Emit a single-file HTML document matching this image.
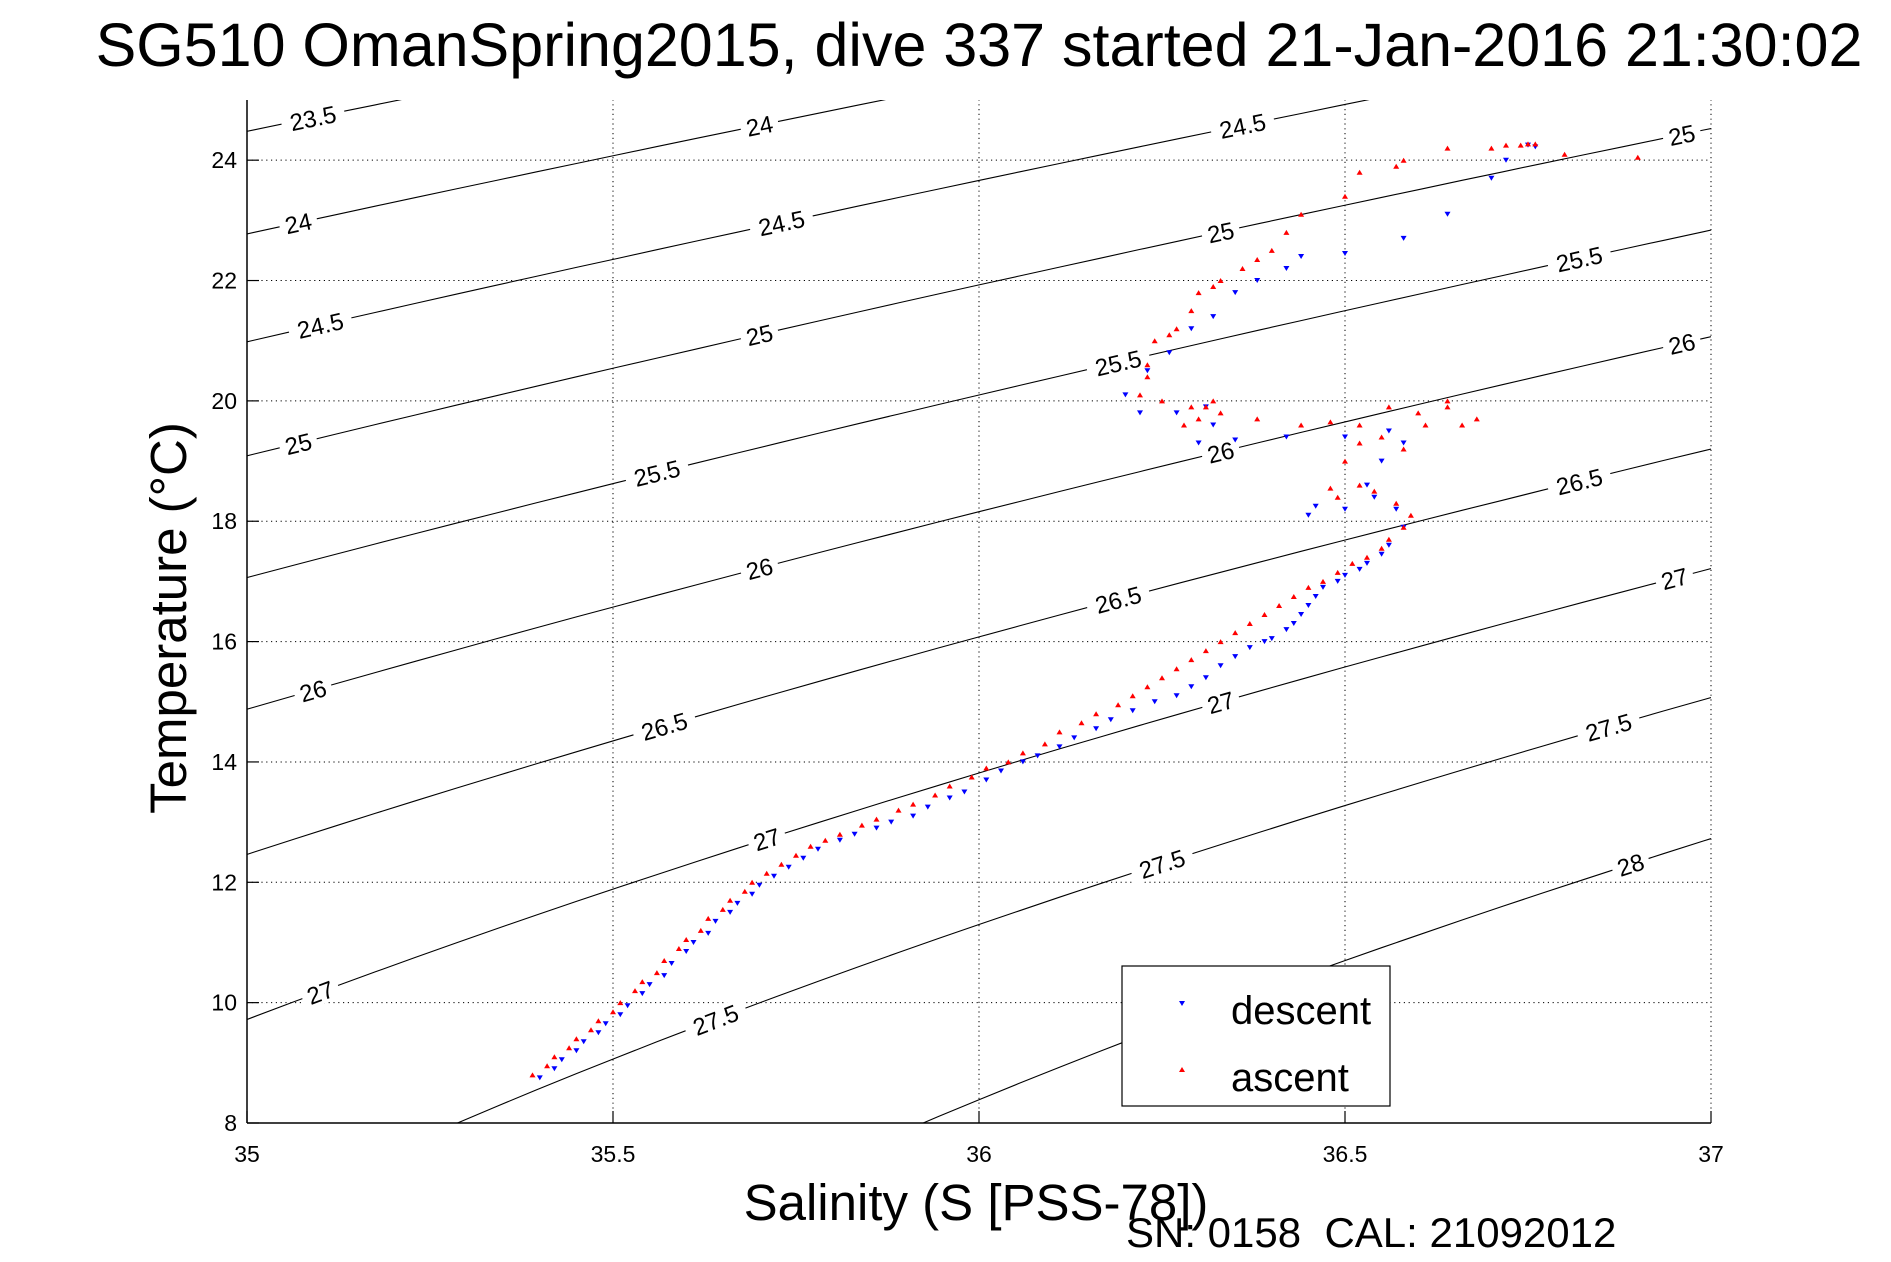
<!DOCTYPE html>
<html><head><meta charset="utf-8"><style>
html,body{margin:0;background:#fff;overflow:hidden;width:1891px;height:1262px}
svg{display:block;font-family:"Liberation Sans",sans-serif}
</style></head><body>
<svg id="chart" width="1891" height="1262" viewBox="0 0 1891 1262">
<defs><clipPath id="clip"><rect x="247" y="100" width="1464" height="1023"/></clipPath></defs>
<text x="979" y="66" text-anchor="middle" font-size="61">SG510 OmanSpring2015, dive 337 started 21-Jan-2016 21:30:02</text>
<g id="grid"></g>
<g id="contours" clip-path="url(#clip)"></g>
<g id="clabels"></g>
<g id="series" clip-path="url(#clip)"></g>
<g id="axes"></g>
<text x="976" y="1220" text-anchor="middle" font-size="51">Salinity (S [PSS-78])</text>
<text transform="translate(186,618) rotate(-90)" text-anchor="middle" font-size="51">Temperature (°C)</text>
<text x="1126" y="1247" font-size="42" xml:space="preserve">SN: 0158  CAL: 21092012</text>
<g>
<rect x="1122" y="966" width="268" height="140" fill="#fff" stroke="#000" stroke-width="1.2"/>
<path d="M1179,1001 l6,0 l-3,5 z" fill="#00f"/>
<text x="1231" y="1024" font-size="40">descent</text>
<path d="M1179,1072 l6,0 l-3,-5 z" fill="#f00"/>
<text x="1231" y="1091" font-size="40">ascent</text>
</g>
</svg>
<script>
const xTicks=[35,35.5,36,36.5,37];
const yTicks=[8,10,12,14,16,18,20,22,24];
const sigmaLevels=[23.5,24,24.5,25,25.5,26,26.5,27,27.5,28];
const labelLevels=[23.5,24,24,24.5,24.5,24.5,25,25,25,25,25.5,25.5,25.5,26,26,26,26,26.5,26.5,26.5,27,27,27,27,27.5,27.5,27.5,28];
const labelSal=[35.09,35.07,35.70,35.10,35.73,36.36,35.07,35.70,36.33,36.96,35.56,36.19,36.82,35.09,35.70,36.33,36.96,35.57,36.19,36.82,35.10,35.71,36.33,36.95,35.64,36.25,36.86,36.89];
const ascS=[35.39,35.41,35.42,35.44,35.45,35.47,35.48,35.50,35.51,35.53,35.54,35.56,35.57,35.59,35.60,35.62,35.63,35.65,35.66,35.68,35.69,35.71,35.73,35.75,35.77,35.79,35.81,35.84,35.86,35.89,35.91,35.94,35.96,35.99,36.01,36.04,36.06,36.09,36.11,36.14,36.16,36.19,36.21,36.23,36.25,36.27,36.29,36.31,36.33,36.35,36.37,36.39,36.41,36.43,36.45,36.47,36.49,36.51,36.53,36.55,36.56,36.58,36.59,36.57,36.54,36.52,36.49,36.48,36.50,36.52,36.55,36.58,36.61,36.64,36.66,36.68,36.64,36.60,36.56,36.52,36.48,36.44,36.38,36.33,36.31,36.32,36.30,36.28,36.29,36.25,36.22,36.23,36.23,36.24,36.26,36.27,36.29,36.30,36.32,36.33,36.36,36.38,36.40,36.42,36.44,36.50,36.52,36.58,36.64,36.70,36.72,36.74,36.75,36.76,36.80,36.90,36.57];
const ascT=[8.8,8.95,9.1,9.25,9.4,9.55,9.7,9.85,10.0,10.2,10.35,10.5,10.7,10.9,11.05,11.2,11.4,11.55,11.7,11.85,12.0,12.15,12.3,12.45,12.6,12.7,12.8,12.95,13.05,13.2,13.3,13.45,13.6,13.75,13.9,14.0,14.15,14.3,14.5,14.65,14.8,14.95,15.1,15.25,15.4,15.55,15.7,15.85,16.0,16.15,16.3,16.45,16.6,16.75,16.9,17.0,17.15,17.3,17.4,17.55,17.7,17.9,18.1,18.3,18.5,18.6,18.4,18.55,19.0,19.3,19.4,19.2,19.6,19.9,19.6,19.7,20.0,19.8,19.9,19.6,19.65,19.6,19.7,19.8,19.9,20.0,19.7,19.6,19.9,20.0,20.1,20.4,20.6,21.0,21.1,21.2,21.5,21.8,21.9,22.0,22.2,22.35,22.5,22.8,23.1,23.4,23.8,24.0,24.2,24.2,24.25,24.25,24.27,24.27,24.1,24.05,23.9];
const desS=[35.40,35.42,35.43,35.45,35.46,35.48,35.49,35.51,35.52,35.54,35.55,35.57,35.58,35.60,35.61,35.63,35.64,35.66,35.67,35.69,35.70,35.72,35.74,35.76,35.78,35.81,35.83,35.86,35.88,35.91,35.93,35.96,35.98,36.01,36.03,36.06,36.08,36.11,36.13,36.16,36.18,36.21,36.24,36.27,36.29,36.31,36.33,36.35,36.37,36.39,36.40,36.42,36.43,36.44,36.45,36.46,36.47,36.49,36.50,36.52,36.53,36.55,36.56,36.58,36.57,36.54,36.50,36.46,36.45,36.53,36.55,36.58,36.56,36.50,36.42,36.35,36.30,36.32,36.31,36.27,36.22,36.20,36.23,36.26,36.29,36.32,36.35,36.38,36.42,36.44,36.50,36.58,36.64,36.70,36.72,36.75,36.76];
const desT=[8.75,8.9,9.05,9.2,9.35,9.5,9.65,9.8,9.95,10.15,10.3,10.45,10.65,10.85,11.0,11.15,11.35,11.5,11.65,11.8,11.95,12.1,12.25,12.4,12.55,12.7,12.8,12.9,13.0,13.1,13.25,13.4,13.5,13.7,13.85,14.0,14.1,14.25,14.4,14.55,14.7,14.85,15.0,15.1,15.25,15.4,15.6,15.75,15.9,16.0,16.05,16.2,16.3,16.45,16.6,16.75,16.9,17.0,17.1,17.2,17.3,17.45,17.6,17.9,18.2,18.4,18.2,18.25,18.1,18.6,19.0,19.3,19.5,19.4,19.4,19.35,19.3,19.6,19.9,19.8,19.8,20.1,20.5,20.8,21.2,21.4,21.8,22.0,22.2,22.4,22.45,22.7,23.1,23.7,24.0,24.25,24.22];

const X0=247,X1=1711,Y0=1123,Y1=100;
const sx=s=>X0+(s-35)/2*(X1-X0);
const sy=t=>Y0-(t-8)/17*(Y0-Y1);
const NS='http://www.w3.org/2000/svg';
function mk(tag,attrs,parent){const e=document.createElementNS(NS,tag);for(const k in attrs)e.setAttribute(k,attrs[k]);parent.appendChild(e);return e;}
function sigma(S,T){
 const rw=999.842594+6.793952e-2*T-9.095290e-3*T*T+1.001685e-4*T**3-1.120083e-6*T**4+6.536332e-9*T**5;
 return rw+S*(0.824493-4.0899e-3*T+7.6438e-5*T*T-8.2467e-7*T**3+5.3875e-9*T**4)+Math.pow(S,1.5)*(-5.72466e-3+1.0227e-4*T-1.6546e-6*T*T)+4.8314e-4*S*S-1000;
}
function tempFor(sig,S){let lo=-5,hi=40;for(let i=0;i<50;i++){const m=(lo+hi)/2;if(sigma(S,m)>sig)lo=m;else hi=m;}return (lo+hi)/2;}
const grid=document.getElementById('grid'),axes=document.getElementById('axes');
xTicks.forEach(v=>{
 if(v>35){const g=mk('line',{x1:sx(v),x2:sx(v),y1:Y0,y2:Y1,stroke:'#000','stroke-width':1,'stroke-dasharray':'1.2 3.6'},grid);
 
 }
 const tk=mk('line',{x1:sx(v),x2:sx(v),y1:Y0,y2:Y0-12,stroke:'#000','stroke-width':1.2},axes);
 
 
 const t=mk('text',{x:sx(v),y:Y0+39,'text-anchor':'middle','font-size':23},axes);t.textContent=String(v);
 
 
});
yTicks.forEach(v=>{
 if(v>8){const g=mk('line',{x1:X0,x2:X1,y1:sy(v),y2:sy(v),stroke:'#000','stroke-width':1,'stroke-dasharray':'1.2 3.6'},grid);
 
 }
 const tk=mk('line',{x1:X0,x2:X0+12,y1:sy(v),y2:sy(v),stroke:'#000','stroke-width':1.2},axes);
 
 
 const t=mk('text',{x:X0-10,y:sy(v)+8,'text-anchor':'end','font-size':23},axes);t.textContent=String(v);
 
 
});
const xa=mk('line',{x1:X0,x2:X1,y1:Y0,y2:Y0,stroke:'#000','stroke-width':1.5},axes);


const ya=mk('line',{x1:X0,x2:X0,y1:Y0,y2:Y1,stroke:'#000','stroke-width':1.5},axes);


const cg=document.getElementById('contours'),lg=document.getElementById('clabels');
sigmaLevels.forEach(sig=>{
 let d='';for(let i=0;i<=40;i++){const S=34.9+i*(2.2/40);d+=(i?'L':'M')+sx(S).toFixed(1)+','+sy(tempFor(sig,S)).toFixed(1);}
 const p=mk('path',{d:d,fill:'none',stroke:'#000','stroke-width':1.1},cg);
 
 
});
labelLevels.forEach((sig,i)=>{
 const S=labelSal[i],x=sx(S),y=sy(tempFor(sig,S));
 const x2=sx(S+0.02),y2=sy(tempFor(sig,S+0.02));
 const ang=Math.atan2(y2-y,x2-x)*180/Math.PI;
 const g=mk('g',{transform:`translate(${x.toFixed(1)},${y.toFixed(1)}) rotate(${ang.toFixed(2)})`},lg);
 
 
 const w=String(sig).length*13+12;
 mk('rect',{x:-w/2,y:-12,width:w,height:24,fill:'#fff'},g);
 const t=mk('text',{x:0,y:9,'text-anchor':'middle','font-size':24},g);t.textContent=String(sig);
});
const ser=document.getElementById('series');
desS.forEach((s,i)=>{const x=sx(s),y=sy(desT[i]);
 const m=mk('path',{d:`M${(x-3).toFixed(1)},${(y-2.5).toFixed(1)} l6,0 l-3,5 z`,fill:'#00f'},ser);
 
 });
ascS.forEach((s,i)=>{const x=sx(s),y=sy(ascT[i]);
 const m=mk('path',{d:`M${(x-3).toFixed(1)},${(y+2.5).toFixed(1)} l6,0 l-3,-5 z`,fill:'#f00'},ser);
 
 });
</script>
</body></html>
